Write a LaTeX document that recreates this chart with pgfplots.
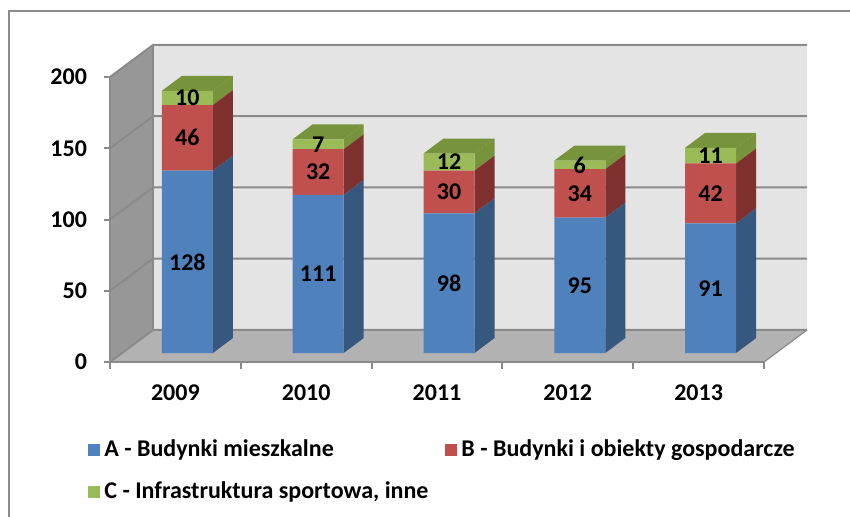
\documentclass[border=0pt]{standalone}
\usepackage{pgfplots}
\pgfplotsset{compat=1.18}
\usepackage{pgfplotstable}
\usepackage{fontspec}
\setmainfont{Carlito}

\definecolor{blueF}{HTML}{4F81BD}
\definecolor{blueS}{HTML}{36577E}
\definecolor{redF}{HTML}{C0504D}
\definecolor{redS}{HTML}{7E312F}
\definecolor{greenF}{HTML}{9BBB59}
\definecolor{greenS}{HTML}{77933C}
\definecolor{backwall}{HTML}{E4E4E4}
\definecolor{sidewall}{HTML}{979797}
\definecolor{floorc}{HTML}{B2B2B2}
\definecolor{gridc}{HTML}{8A8A8A}
\definecolor{framec}{HTML}{8C8C8C}

\pgfplotstableread{
x   A   B  C
0.5 128 46 10
1.5 111 32 7
2.5 98  30 12
3.5 95  34 6
4.5 91  42 11
}\data

\newcommand\lblfont{\fontsize{12}{14}\selectfont\bfseries}

\begin{document}
\begin{tikzpicture}
\path[use as bounding box] (0,0) rectangle (425pt,258pt);
\draw[framec, line width=1pt] (4.25pt,-10pt) -- (4.25pt,252.5pt) -- (440pt,252.5pt);

% front plane: walls, floor, axis lines, ticks
\begin{axis}[
  at={(55pt,77pt)}, anchor=south west,
  scale only axis, width=327pt, height=142.5pt,
  xmin=0, xmax=5, ymin=0, ymax=200,
  clip=false, axis on top,
  axis x line*=bottom, axis y line*=left,
  axis line style={gridc, line width=1pt},
  tick align=outside,
  xtick={0.5,1.5,2.5,3.5,4.5},
  xticklabels={2009,2010,2011,2012,2013},
  major x tick style={draw=none},
  minor xtick={0,1,2,3,4,5},
  minor tick length=3.5pt,
  ytick={0,50,100,150,200},
  major tick length=3pt,
  tick style={gridc, line width=1pt},
  ticklabel style={font=\lblfont},
  xticklabel style={yshift=-5pt},
  yticklabel style={xshift=-5pt},
  /pgf/number format/assume math mode=true,
]
\fill[backwall] (axis cs:0.329,22.5) rectangle (axis cs:5.329,222.5);
\fill[sidewall] (axis cs:0,0) -- (axis cs:0,200) -- (axis cs:0.329,222.5) -- (axis cs:0.329,22.5) -- cycle;
\fill[floorc] (axis cs:0,0) -- (axis cs:5,0) -- (axis cs:5.329,22.5) -- (axis cs:0.329,22.5) -- cycle;
\draw[gridc, line width=1pt] (axis cs:0,0) -- (axis cs:0.329,22.5) -- (axis cs:5.329,22.5);
\draw[gridc, line width=1pt] (axis cs:0,50) -- (axis cs:0.329,72.5) -- (axis cs:5.329,72.5);
\draw[gridc, line width=1pt] (axis cs:0,100) -- (axis cs:0.329,122.5) -- (axis cs:5.329,122.5);
\draw[gridc, line width=1pt] (axis cs:0,150) -- (axis cs:0.329,172.5) -- (axis cs:5.329,172.5);
\draw[gridc, line width=1pt] (axis cs:0,200) -- (axis cs:0.329,222.5) -- (axis cs:5.329,222.5);
\draw[gridc, line width=0.6pt] (axis cs:0.329,22.5) -- (axis cs:0.329,222.5);
\draw[gridc, line width=0.6pt] (axis cs:5,0) -- (axis cs:5.329,22.5);
\end{axis}

% bar plane: bars and their 3-D faces
\begin{axis}[
  at={(61pt,81.5pt)}, anchor=south west,
  scale only axis, width=327pt, height=142.5pt,
  xmin=0, xmax=5, ymin=0, ymax=200,
  hide axis, clip=false,
  ybar stacked, bar width=25.5pt,
  legend style={at={(axis description cs:-0.052,-0.29)}, anchor=north west,
    draw=none, fill=none, font=\lblfont, legend columns=2, inner sep=0pt,
    row sep=7pt, /tikz/every even column/.append style={column sep=6.5pt}},
  legend cell align=left,
  legend image code/.code={\fill[#1] (0pt,-3pt) rectangle (6pt,3pt);},
]
\addplot[fill=blueF, draw=none] table[x=x,y=A]{\data};
\addplot[fill=redF, draw=none] table[x=x,y=B]{\data};
\addplot[fill=greenF, draw=none] table[x=x,y=C]{\data};
\legend{A - Budynki mieszkalne, B - Budynki i obiekty gospodarcze, C - Infrastruktura sportowa{,} inne}
\pgfplotsinvokeforeach{0,...,4}{
  \pgfplotstablegetelem{#1}{x}\of\data \let\xx\pgfplotsretval
  \pgfplotstablegetelem{#1}{A}\of\data \let\va\pgfplotsretval
  \pgfplotstablegetelem{#1}{B}\of\data \let\vb\pgfplotsretval
  \pgfplotstablegetelem{#1}{C}\of\data \let\vc\pgfplotsretval
  \pgfmathsetmacro\ya{\va}
  \pgfmathsetmacro\yb{\va+\vb}
  \pgfmathsetmacro\yc{\va+\vb+\vc}
  \pgfmathsetmacro\yad{\ya+10.5}
  \pgfmathsetmacro\ybd{\yb+10.5}
  \pgfmathsetmacro\ycd{\yc+10.5}
  \pgfmathsetmacro\xl{\xx-0.195}
  \pgfmathsetmacro\xr{\xx+0.195}
  \pgfmathsetmacro\xld{\xl+0.153}
  \pgfmathsetmacro\xrd{\xr+0.153}
  \edef\tmp{%
    \noexpand\fill[blueS] (axis cs:\xr,0) -- (axis cs:\xrd,10.5) -- (axis cs:\xrd,\yad) -- (axis cs:\xr,\ya) -- cycle;
    \noexpand\fill[redS] (axis cs:\xr,\ya) -- (axis cs:\xrd,\yad) -- (axis cs:\xrd,\ybd) -- (axis cs:\xr,\yb) -- cycle;
    \noexpand\fill[greenS] (axis cs:\xr,\yb) -- (axis cs:\xrd,\ybd) -- (axis cs:\xrd,\ycd) -- (axis cs:\xr,\yc) -- cycle;
    \noexpand\fill[greenS] (axis cs:\xl,\yc) -- (axis cs:\xr,\yc) -- (axis cs:\xrd,\ycd) -- (axis cs:\xld,\ycd) -- cycle;
  }%
  \tmp
}
\end{axis}

% data labels, same geometry as the bar plane
\begin{axis}[
  at={(61pt,81.5pt)}, anchor=south west,
  scale only axis, width=327pt, height=142.5pt,
  xmin=0, xmax=5, ymin=0, ymax=200,
  hide axis, clip=false,
]
\pgfplotsinvokeforeach{0,...,4}{
  \pgfplotstablegetelem{#1}{x}\of\data \let\xx\pgfplotsretval
  \pgfplotstablegetelem{#1}{A}\of\data \let\va\pgfplotsretval
  \pgfplotstablegetelem{#1}{B}\of\data \let\vb\pgfplotsretval
  \pgfplotstablegetelem{#1}{C}\of\data \let\vc\pgfplotsretval
  \pgfmathsetmacro\ma{\va/2}
  \pgfmathsetmacro\mb{\va+\vb/2}
  \pgfmathsetmacro\mc{\va+\vb+\vc/2}
  \edef\tmp{%
    \noexpand\node[font=\noexpand\lblfont, text=black] at (axis cs:\xx,\ma) {\va};
    \noexpand\node[font=\noexpand\lblfont, text=black] at (axis cs:\xx,\mb) {\vb};
    \noexpand\node[font=\noexpand\lblfont, text=black] at (axis cs:\xx,\mc) {\vc};
  }%
  \tmp
}
\end{axis}
\end{tikzpicture}
\end{document}
